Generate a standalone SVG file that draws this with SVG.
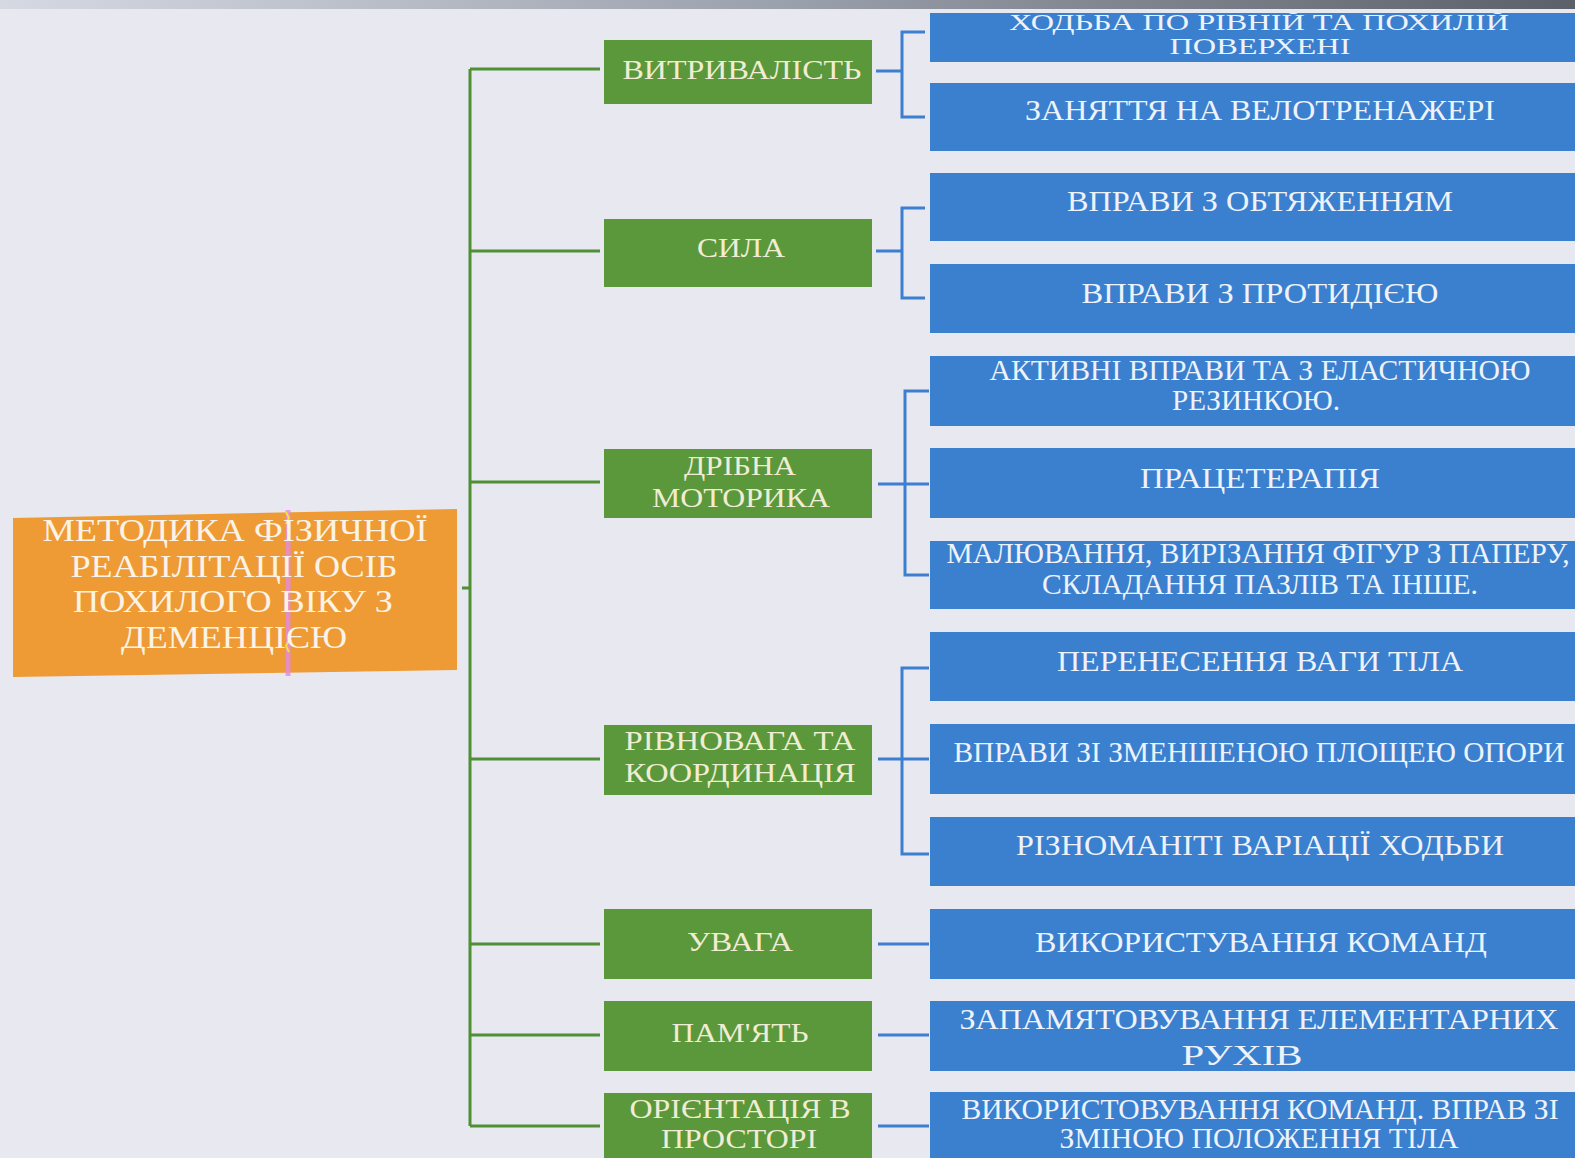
<svg xmlns="http://www.w3.org/2000/svg" width="1575" height="1158" viewBox="0 0 1575 1158">
<defs>
<style>
.bg{fill:#e8e8f0}
.g{fill:#5b983c}
.b{fill:#3b80cf}
.o{fill:#ee9b36}
.gl{stroke:#4f9034;stroke-width:3;fill:none}
.bl{stroke:#3c7fd0;stroke-width:3;fill:none}
text{font-family:"Liberation Serif","Times New Roman",serif;text-anchor:middle}
.gt{fill:#f1ecd4;font-size:28px}
.bt{fill:#eef2fa;font-size:29px}
.bs{font-size:23px}
.ot{fill:#fbf3e6;font-size:32px}
</style>
<linearGradient id="top" x1="0" y1="0" x2="1" y2="0">
<stop offset="0" stop-color="#d6d9e2"/>
<stop offset="0.5" stop-color="#9aa0ac"/>
<stop offset="1" stop-color="#5c6068"/>
</linearGradient>
<clipPath id="c1"><rect x="930" y="13" width="645" height="49"/></clipPath>
</defs>
<rect class="bg" x="0" y="0" width="1575" height="1158"/>
<rect x="0" y="0" width="1575" height="9" fill="url(#top)"/>

<g id="connectors">
<path class="gl" d="M470 69 V1126 M462 588 H470 M470 69 H600 M470 251 H600 M470 482 H600 M470 759 H600 M470 944 H600 M470 1035 H600 M470 1126 H600"/>
<path class="bl" d="M876 71 H902 M925 32 H902 V117 H925"/>
<path class="bl" d="M876 251 H902 M925 208 H902 V298 H925"/>
<path class="bl" d="M878 484 H929 M929 391 H905 V575 H929"/>
<path class="bl" d="M878 759 H929 M929 668 H902 V854 H929"/>
<path class="bl" d="M878 944 H929 M878 1035 H929 M878 1126 H929"/>
</g>

<g id="root">
<polygon class="o" points="13,518 457,509 457,670 13,677"/>
<path d="M288 510 V676" stroke="#e58ae6" stroke-width="5" opacity="0.8"/>
<path d="M286 512 l3 6 l-3 6 M289 640 l-3 6 l3 6" stroke="#f0e040" stroke-width="2" fill="none"/>
<text class="ot" x="235" y="541" textLength="385" lengthAdjust="spacingAndGlyphs">МЕТОДИКА ФІЗИЧНОЇ</text>
<text class="ot" x="234" y="577" textLength="327" lengthAdjust="spacingAndGlyphs">РЕАБІЛІТАЦІЇ ОСІБ</text>
<text class="ot" x="233" y="612" textLength="320" lengthAdjust="spacingAndGlyphs">ПОХИЛОГО ВІКУ З</text>
<text class="ot" x="234" y="648" textLength="226" lengthAdjust="spacingAndGlyphs">ДЕМЕНЦІЄЮ</text>
</g>

<g id="n-endurance">
<rect class="g" x="604" y="40" width="268" height="64"/>
<text class="gt" x="742" y="79" textLength="239" lengthAdjust="spacingAndGlyphs">ВИТРИВАЛІСТЬ</text>
</g>
<g id="n-strength">
<rect class="g" x="604" y="219" width="268" height="68"/>
<text class="gt" x="741" y="257" textLength="88" lengthAdjust="spacingAndGlyphs">СИЛА</text>
</g>
<g id="n-fine">
<rect class="g" x="604" y="449" width="268" height="69"/>
<text class="gt" x="740" y="475" textLength="112" lengthAdjust="spacingAndGlyphs">ДРІБНА</text>
<text class="gt" x="741" y="507" textLength="178" lengthAdjust="spacingAndGlyphs">МОТОРИКА</text>
</g>
<g id="n-balance">
<rect class="g" x="604" y="725" width="268" height="70"/>
<text class="gt" x="740" y="750" textLength="231" lengthAdjust="spacingAndGlyphs">РІВНОВАГА ТА</text>
<text class="gt" x="740" y="782" textLength="231" lengthAdjust="spacingAndGlyphs">КООРДИНАЦІЯ</text>
</g>
<g id="n-attention">
<rect class="g" x="604" y="909" width="268" height="70"/>
<text class="gt" x="740" y="951" textLength="106" lengthAdjust="spacingAndGlyphs">УВАГА</text>
</g>
<g id="n-memory">
<rect class="g" x="604" y="1001" width="268" height="70"/>
<text class="gt" x="740" y="1042" textLength="137" lengthAdjust="spacingAndGlyphs">ПАМ'ЯТЬ</text>
</g>
<g id="n-orientation">
<rect class="g" x="604" y="1093" width="268" height="70"/>
<text class="gt" x="740" y="1118" textLength="221" lengthAdjust="spacingAndGlyphs">ОРІЄНТАЦІЯ В</text>
<text class="gt" x="739" y="1148" textLength="156" lengthAdjust="spacingAndGlyphs">ПРОСТОРІ</text>
</g>

<g id="b-walk">
<rect class="b" x="930" y="13" width="645" height="49"/>
<text class="bt bs" x="1259" y="30" clip-path="url(#c1)" textLength="500" lengthAdjust="spacingAndGlyphs">ХОДЬБА ПО РІВНІЙ ТА ПОХИЛІЙ</text>
<text class="bt bs" x="1260" y="54" textLength="181" lengthAdjust="spacingAndGlyphs">ПОВЕРХЕНІ</text>
</g>
<g id="b-bike">
<rect class="b" x="930" y="83" width="645" height="68"/>
<text class="bt" x="1260" y="120" textLength="470" lengthAdjust="spacingAndGlyphs">ЗАНЯТТЯ НА ВЕЛОТРЕНАЖЕРІ</text>
</g>
<g id="b-weights">
<rect class="b" x="930" y="173" width="645" height="68"/>
<text class="bt" x="1260" y="211" textLength="386" lengthAdjust="spacingAndGlyphs">ВПРАВИ З ОБТЯЖЕННЯМ</text>
</g>
<g id="b-resist">
<rect class="b" x="930" y="264" width="645" height="69"/>
<text class="bt" x="1260" y="303" textLength="357" lengthAdjust="spacingAndGlyphs">ВПРАВИ З ПРОТИДІЄЮ</text>
</g>
<g id="b-active">
<rect class="b" x="930" y="356" width="645" height="70"/>
<text class="bt" x="1260" y="380" textLength="541" lengthAdjust="spacingAndGlyphs">АКТИВНІ ВПРАВИ ТА З ЕЛАСТИЧНОЮ</text>
<text class="bt" x="1256" y="410" textLength="168" lengthAdjust="spacingAndGlyphs">РЕЗИНКОЮ.</text>
</g>
<g id="b-work">
<rect class="b" x="930" y="448" width="645" height="70"/>
<text class="bt" x="1260" y="488" textLength="240" lengthAdjust="spacingAndGlyphs">ПРАЦЕТЕРАПІЯ</text>
</g>
<g id="b-draw">
<rect class="b" x="930" y="541" width="645" height="68"/>
<text class="bt" x="1258" y="563" textLength="623" lengthAdjust="spacingAndGlyphs">МАЛЮВАННЯ, ВИРІЗАННЯ ФІГУР З ПАПЕРУ,</text>
<text class="bt" x="1260" y="594" textLength="436" lengthAdjust="spacingAndGlyphs">СКЛАДАННЯ ПАЗЛІВ ТА ІНШЕ.</text>
</g>
<g id="b-weight-shift">
<rect class="b" x="930" y="632" width="645" height="69"/>
<text class="bt" x="1260" y="671" textLength="406" lengthAdjust="spacingAndGlyphs">ПЕРЕНЕСЕННЯ ВАГИ ТІЛА</text>
</g>
<g id="b-support">
<rect class="b" x="930" y="724" width="645" height="70"/>
<text class="bt" x="1259" y="762" textLength="611" lengthAdjust="spacingAndGlyphs">ВПРАВИ ЗІ ЗМЕНШЕНОЮ ПЛОЩЕЮ ОПОРИ</text>
</g>
<g id="b-gait">
<rect class="b" x="930" y="817" width="645" height="69"/>
<text class="bt" x="1260" y="855" textLength="488" lengthAdjust="spacingAndGlyphs">РІЗНОМАНІТІ ВАРІАЦІЇ ХОДЬБИ</text>
</g>
<g id="b-commands">
<rect class="b" x="930" y="909" width="645" height="70"/>
<text class="bt" x="1261" y="952" textLength="452" lengthAdjust="spacingAndGlyphs">ВИКОРИСТУВАННЯ КОМАНД</text>
</g>
<g id="b-moves">
<rect class="b" x="930" y="1001" width="645" height="70"/>
<text class="bt" x="1259" y="1029" textLength="599" lengthAdjust="spacingAndGlyphs">ЗАПАМЯТОВУВАННЯ ЕЛЕМЕНТАРНИХ</text>
<text class="bt" x="1242" y="1065" textLength="121" lengthAdjust="spacingAndGlyphs">РУХІВ</text>
</g>
<g id="b-position">
<rect class="b" x="930" y="1092" width="645" height="70"/>
<text class="bt" x="1260" y="1119" textLength="597" lengthAdjust="spacingAndGlyphs">ВИКОРИСТОВУВАННЯ КОМАНД. ВПРАВ ЗІ</text>
<text class="bt" x="1259" y="1148" textLength="399" lengthAdjust="spacingAndGlyphs">ЗМІНОЮ ПОЛОЖЕННЯ ТІЛА</text>
</g>
</svg>
